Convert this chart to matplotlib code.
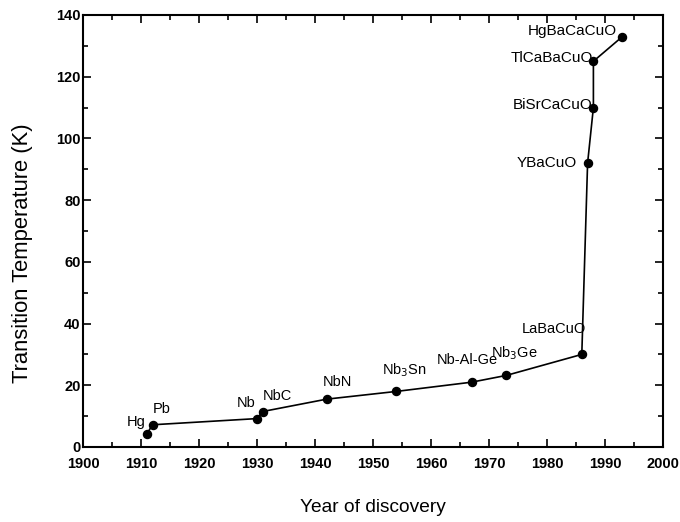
import matplotlib
matplotlib.use("Agg")
import matplotlib.pyplot as plt
from matplotlib.ticker import MultipleLocator

plt.rcParams['font.family'] = ['Liberation Sans', 'DejaVu Sans']

# Superconductor discoveries: year and transition temperature (K)
materials = ["Hg", "Pb", "Nb", "NbC", "NbN", "Nb$_3$Sn", "Nb-Al-Ge", "Nb$_3$Ge",
             "LaBaCuO", "YBaCuO", "BiSrCaCuO", "TlCaBaCuO", "HgBaCaCuO"]
years = [1911, 1912, 1930, 1931, 1942, 1954, 1967, 1973, 1986, 1987, 1988, 1988, 1993]
tc = [4.2, 7.2, 9.2, 11.5, 15.5, 18.0, 21.0, 23.2, 30.0, 92.0, 110.0, 125.0, 133.0]

# label placement: (dx, dy) offset in points, horizontal alignment, font size
label_pos = [
    (-1, 9, 'right', 10.5), (0, 11, 'left', 10.5), (-1, 11, 'right', 10.5),
    (0, 11, 'left', 10.5), (-3, 12, 'left', 10.5), (6, 15, 'center', 10.5),
    (-3, 16, 'center', 10.5), (6, 16, 'center', 10.5), (3, 18, 'right', 10.5),
    (-8, 0, 'right', 11), (-1, 2, 'right', 11), (0, 2, 'right', 11),
    (-4, 4, 'right', 11),
]

fig = plt.figure(figsize=(6.8, 5.22), dpi=100)
ax = fig.add_axes([0.122, 0.1437, 0.853, 0.8276])

ax.plot(years, tc, color='black', lw=1.2, marker='o', ms=5.8,
        mfc='black', mec='black', zorder=3)

for name, x, y, (dx, dy, ha, fs) in zip(materials, years, tc, label_pos):
    ax.annotate(name, (x, y), xytext=(dx, dy), textcoords='offset points',
                ha=ha, va='center', fontsize=fs, color='black')

ax.set_xlim(1900, 2000)
ax.set_ylim(0, 140)
ax.xaxis.set_major_locator(MultipleLocator(10))
ax.xaxis.set_minor_locator(MultipleLocator(5))
ax.yaxis.set_major_locator(MultipleLocator(20))
ax.yaxis.set_minor_locator(MultipleLocator(10))

ax.tick_params(which='both', direction='in', top=True, right=True,
               width=1.2, labelsize=10.5)
ax.tick_params(which='major', length=6)
ax.tick_params(which='minor', length=3.5)
ax.tick_params(axis='x', which='major', pad=7.5)
ax.tick_params(axis='y', which='major', pad=1.8)
for lab in ax.get_xticklabels() + ax.get_yticklabels():
    lab.set_fontweight('bold')
for s in ax.spines.values():
    s.set_linewidth(1.5)

ax.set_xlabel("Year of discovery", fontsize=13.8, va='center', ha='center')
ax.xaxis.set_label_coords(0.5, -0.139)
ax.set_ylabel("Transition Temperature (K)", fontsize=15.8, va='center',
              ha='center')
ax.yaxis.set_label_coords(-0.1034, 0.449)

fig.savefig("out.png", dpi=100)
